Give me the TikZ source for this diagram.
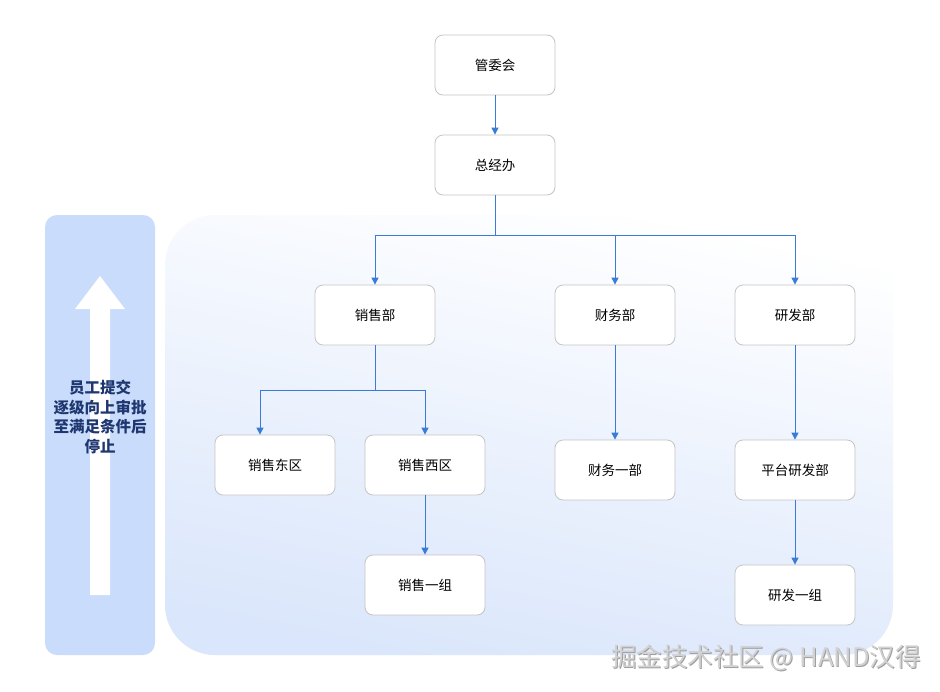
\documentclass[tikz,border=0pt]{standalone}
\usepackage{fontspec}
\setmainfont{Noto Sans CJK SC}
\usetikzlibrary{arrows.meta}
\definecolor{linec}{HTML}{3A7BD8}
\definecolor{panel}{HTML}{C9DCFB}
\definecolor{bgblue}{HTML}{DAE6FB}
\definecolor{nodeb}{HTML}{C4C4C4}
\definecolor{navy}{HTML}{1E3770}
\begin{document}
\begin{tikzpicture}[x=1pt,y=-1pt,
  box/.style={draw=nodeb, line width=0.8pt, fill=white, rounded corners=8pt,
    minimum width=120pt, minimum height=60pt, inner sep=0pt,
    font=\fontsize{13.5}{16}\selectfont},
  arr/.style={draw=linec, line width=1pt, -{Triangle[width=7pt,length=7pt]}},
  ln/.style={draw=linec, line width=1pt}]
\useasboundingbox (0,0) rectangle (940,691);
\fill[white] (0,0) rectangle (940,691);
% background region
\shade[top color=white, bottom color=bgblue, shading angle=-12, rounded corners=50pt]
  (165,215) rectangle (893,655);
% left panel
\fill[panel, rounded corners=12pt] (45,215) rectangle (155,655);
\fill[white] (90,595) -- (90,309) -- (75,309) -- (100,276) -- (125,309)
  -- (110,309) -- (110,595) -- cycle;
\node[text=navy, align=center, font=\bfseries\fontsize{15.5}{19.5}\selectfont]
  (lbl) at (100,417) {员工提交\\逐级向上审批\\至满足条件后\\停止};
% nodes
\node[box] (gwh) at (495,65) {管委会};
\node[box] (zjb) at (495,165) {总经办};
\node[box] (xsb) at (375,315) {销售部};
\node[box] (cwb) at (615,315) {财务部};
\node[box] (yfb) at (795,315) {研发部};
\node[box] (xsdq) at (275,465) {销售东区};
\node[box] (xsxq) at (425,465) {销售西区};
\node[box] (xsyz) at (425,585) {销售一组};
\node[box] (cwyb) at (615,470) {财务一部};
\node[box] (ptyf) at (795,470) {平台研发部};
\node[box] (yfyz) at (795,595) {研发一组};
% connectors
\draw[arr] (gwh) -- (zjb);
\coordinate (bar1) at (495,235);
\draw[ln] (zjb.south) -- (bar1);
\draw[arr] (bar1) -| (xsb.north);
\draw[arr] (bar1) -| (cwb.north);
\draw[arr] (bar1) -| (yfb.north);
\coordinate (bar2) at (375,390);
\draw[ln] (xsb.south) -- (bar2);
\draw[arr] (bar2) -| ([xshift=-15pt]xsdq.north);
\draw[arr] (bar2) -| (xsxq.north);
\draw[arr] (xsxq) -- (xsyz);
\draw[arr] (cwb) -- (cwyb);
\draw[arr] (yfb) -- (ptyf);
\draw[arr] (ptyf) -- (yfyz);
% watermark
\node[text=gray!75, font=\fontsize{25.5}{30}\selectfont] at (766.8,658.8) {掘金技术社区 @ HAND汉得};
\node[text=gray!35, font=\fontsize{25.5}{30}\selectfont] (wm) at (766,658) {掘金技术社区 @ HAND汉得};
\end{tikzpicture}
\end{document}
